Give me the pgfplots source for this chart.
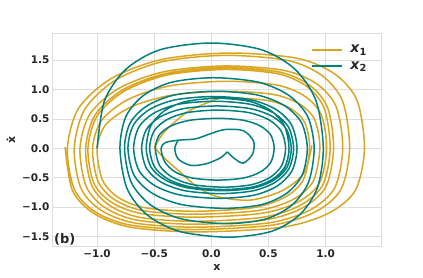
\documentclass[border=0pt]{standalone}
\usepackage{fontspec}
\setmainfont{DejaVu Sans}
\usepackage{pgfplots}
\pgfplotsset{compat=1.18}
\definecolor{goldc}{HTML}{DAA520}
\definecolor{tealc}{HTML}{008080}
\definecolor{gridc}{HTML}{DDDDDD}
\definecolor{txt}{HTML}{262626}
\begin{document}
\begin{tikzpicture}
\path[use as bounding box] (-53pt,-31pt) rectangle (370pt,246pt);
\begin{axis}[at={(0pt,0pt)}, anchor=south west, scale only axis, width=328pt, height=213pt,
  xmin=-1.386, xmax=1.485, ymin=-1.66, ymax=1.96,
  xtick={-1,-0.5,0,0.5,1}, xticklabels={−1.0,−0.5,0.0,0.5,1.0},
  ytick={-1.5,-1,...,1.5}, yticklabels={−1.5,−1.0,−0.5,0.0,0.5,1.0,1.5},
  major tick length=0pt,
  grid=major, grid style={gridc, line width=0.8pt},
  axis line style={gridc, line width=1pt},
  ticklabel style={font=\bfseries\fontsize{10.5}{12}\selectfont, text=txt},
  xlabel={\textbf{x}}, ylabel={\textbf{\.{x}}},
  label style={font=\bfseries\fontsize{11}{13}\selectfont, text=txt},
  legend style={at={(0.97,0.962)}, anchor=north east, draw=none, fill=none,
    font=\fontsize{14}{16}\selectfont, text=txt, inner sep=2pt, row sep=3pt},
  legend cell align=left,
  legend image code/.code={\draw[#1] (0pt,0pt) -- (30pt,0pt); \path (35pt,0pt);},
]
\addlegendimage{draw=goldc, line width=1.6pt}
\addlegendentry{\textbf{\textit{x}}\textsubscript{\textbf{1}}}
\addlegendimage{draw=tealc, line width=1.6pt}
\addlegendentry{\textbf{\textit{x}}\textsubscript{\textbf{2}}}
% gold spiral
\addplot[draw=goldc, line width=1.5pt, smooth, forget plot] coordinates {
(-0.5,0.02) (-0.42,0.26) (-0.33,0.43) (-0.21,0.62) (-0.04,0.77) (0.12,0.86)
(0.493,0.813) (0.698,0.672) (0.819,0.433) (0.86,0) (0.804,-0.539) (0.639,-0.836) (0.359,-1.011) (-0.15,-1.07) (-0.578,-1.011) (-0.814,-0.836) (-0.953,-0.539)
(-1.0,0) (-0.923,0.405) (-0.698,0.708) (-0.348,0.903) (0.12,0.97) (0.538,0.917) (0.768,0.758) (0.904,0.489) (0.95,0) (0.890,-0.564) (0.709,-0.875) (0.404,-1.058) (-0.15,-1.12) (-0.599,-1.058) (-0.845,-0.875) (-0.991,-0.564)
(-1.04,0) (-0.960,0.477) (-0.727,0.832) (-0.365,1.061) (0.12,1.14) (0.569,1.077) (0.815,0.890) (0.961,0.575) (1.01,0) (0.946,-0.590) (0.756,-0.914) (0.435,-1.106) (-0.15,-1.17) (-0.619,-1.106) (-0.876,-0.914) (-1.029,-0.590)
(-1.08,0) (-0.997,0.560) (-0.756,0.978) (-0.382,1.248) (0.12,1.34) (0.584,1.266) (0.839,1.047) (0.989,0.675) (1.04,0) (0.975,-0.625) (0.779,-0.968) (0.450,-1.172) (-0.15,-1.24) (-0.629,-1.172) (-0.892,-0.968) (-1.048,-0.625)
(-1.10,0) (-1.016,0.573) (-0.771,1.000) (-0.390,1.275) (0.12,1.37) (0.599,1.295) (0.862,1.070) (1.018,0.690) (1.07,0) (1.003,-0.650) (0.803,-1.007) (0.465,-1.219) (-0.15,-1.29) (-0.654,-1.219) (-0.931,-1.007) (-1.095,-0.650)
(-1.15,0) (-1.062,0.585) (-0.807,1.022) (-0.411,1.303) (0.12,1.40) (0.639,1.323) (0.924,1.093) (1.093,0.706) (1.15,0) (1.079,-0.675) (0.865,-1.047) (0.505,-1.266) (-0.15,-1.34) (-0.679,-1.266) (-0.970,-1.047) (-1.142,-0.675)
(-1.20,0) (-1.109,0.660) (-0.844,1.153) (-0.432,1.471) (0.12,1.58) (0.669,1.493) (0.971,1.234) (1.150,0.796) (1.21,0) (1.135,-0.696) (0.912,-1.078) (0.535,-1.304) (-0.15,-1.38) (-0.709,-1.304) (-1.017,-1.078) (-1.199,-0.696)
(-1.26,0) (-1.163,0.677) (-0.879,1.183) (-0.439,1.508) (0.15,1.62) (0.750,1.531) (1.079,1.265) (1.275,0.816) (1.34,0) (1.260,-0.716) (1.020,-1.109) (0.616,-1.342) (-0.12,-1.42) (-0.705,-1.342) (-1.026,-1.109) (-1.216,-0.716) (-1.28,0.02)
};
% gold tail into the corner
\addplot[draw=goldc, line width=1.5pt, smooth, forget plot] coordinates {
(0.88,0.05) (0.81,-0.42) (0.62,-0.72) (0.34,-0.88) (0.05,-0.82) (-0.12,-0.66) (-0.27,-0.41) (-0.42,-0.15) (-0.5,0.02)
};
% teal spiral
\addplot[draw=tealc, line width=1.5pt, smooth, forget plot] coordinates {
(-1.0,0) (-0.936,0.804) (-0.749,1.341) (-0.449,1.675) (0,1.79) (0.440,1.675) (0.734,1.341) (0.917,0.804) (0.98,0) (0.927,-0.678) (0.772,-1.131) (0.523,-1.413) (0.15,-1.51) (-0.277,-1.413) (-0.562,-1.131) (-0.739,-0.678)
(-0.80,0) (-0.748,0.539) (-0.594,0.899) (-0.348,1.123) (0.02,1.2) (0.415,1.123) (0.679,0.899) (0.844,0.539) (0.90,0) (0.851,-0.575) (0.709,-0.959) (0.481,-1.198) (0.14,-1.28) (-0.264,-1.198) (-0.534,-0.959) (-0.702,-0.575)
(-0.76,0) (-0.709,0.436) (-0.559,0.727) (-0.319,0.908) (0.04,0.97) (0.399,0.908) (0.639,0.727) (0.789,0.436) (0.84,0) (0.794,-0.458) (0.659,-0.764) (0.443,-0.955) (0.12,-1.02) (-0.262,-0.955) (-0.517,-0.764) (-0.676,-0.458)
(-0.73,0) (-0.682,0.395) (-0.542,0.659) (-0.317,0.824) (0.02,0.88) (0.348,0.824) (0.567,0.659) (0.703,0.395) (0.75,0) (0.706,-0.382) (0.579,-0.637) (0.375,-0.796) (0.07,-0.85) (-0.267,-0.796) (-0.492,-0.637) (-0.632,-0.382)
(-0.68,0) (-0.635,0.359) (-0.502,0.599) (-0.289,0.749) (0.03,0.80) (0.340,0.749) (0.547,0.599) (0.676,0.359) (0.72,0) (0.679,-0.346) (0.559,-0.577) (0.367,-0.721) (0.08,-0.77) (-0.230,-0.721) (-0.437,-0.577) (-0.566,-0.346)
(-0.61,0) (-0.568,0.323) (-0.444,0.539) (-0.246,0.674) (0.05,0.72) (0.342,0.674) (0.537,0.539) (0.658,0.323) (0.70,0) (0.662,-0.323) (0.549,-0.539) (0.369,-0.674) (0.1,-0.72) (-0.201,-0.674) (-0.402,-0.539) (-0.527,-0.323)
(-0.57,0) (-0.530,0.382) (-0.412,0.637) (-0.223,0.796) (0.06,0.85) (0.338,0.796) (0.524,0.637) (0.640,0.382) (0.68,0) (0.644,-0.314) (0.537,-0.524) (0.366,-0.655) (0.11,-0.70) (-0.182,-0.655) (-0.377,-0.524) (-0.498,-0.314)
(-0.54,0) (-0.502,0.292) (-0.389,0.487) (-0.209,0.608) (0.06,0.65) (0.325,0.608) (0.502,0.487) (0.612,0.292) (0.65,0) (0.615,-0.296) (0.514,-0.494) (0.352,-0.618) (0.11,-0.66) (-0.159,-0.618) (-0.339,-0.494) (-0.452,-0.296)
(-0.49,0) (-0.455,0.229) (-0.352,0.382) (-0.187,0.477) (0.06,0.51) (0.280,0.477) (0.427,0.382) (0.519,0.229) (0.55,0) (0.519,-0.242) (0.427,-0.404) (0.280,-0.505) (0.06,-0.54) (-0.165,-0.505) (-0.315,-0.404) (-0.408,-0.229)
(-0.44,0) (-0.40,0.10) (-0.28,0.14) (-0.14,0.16) (-0.02,0.24) (0.12,0.32) (0.28,0.3) (0.37,0.12) (0.36,-0.1) (0.28,-0.25) (0.2,-0.17) (0.14,-0.06)
};
\addplot[draw=tealc, line width=1.5pt, smooth, forget plot] coordinates {
(0.14,-0.06) (0.08,-0.16) (-0.04,-0.26) (-0.18,-0.29) (-0.29,-0.18) (-0.32,0.0) (-0.29,0.14)
};
\node[anchor=south west, font=\bfseries\fontsize{13}{15}\selectfont, text=txt, inner sep=1pt] at (rel axis cs:0,0) {(b)};
\end{axis}
\end{tikzpicture}
\end{document}
